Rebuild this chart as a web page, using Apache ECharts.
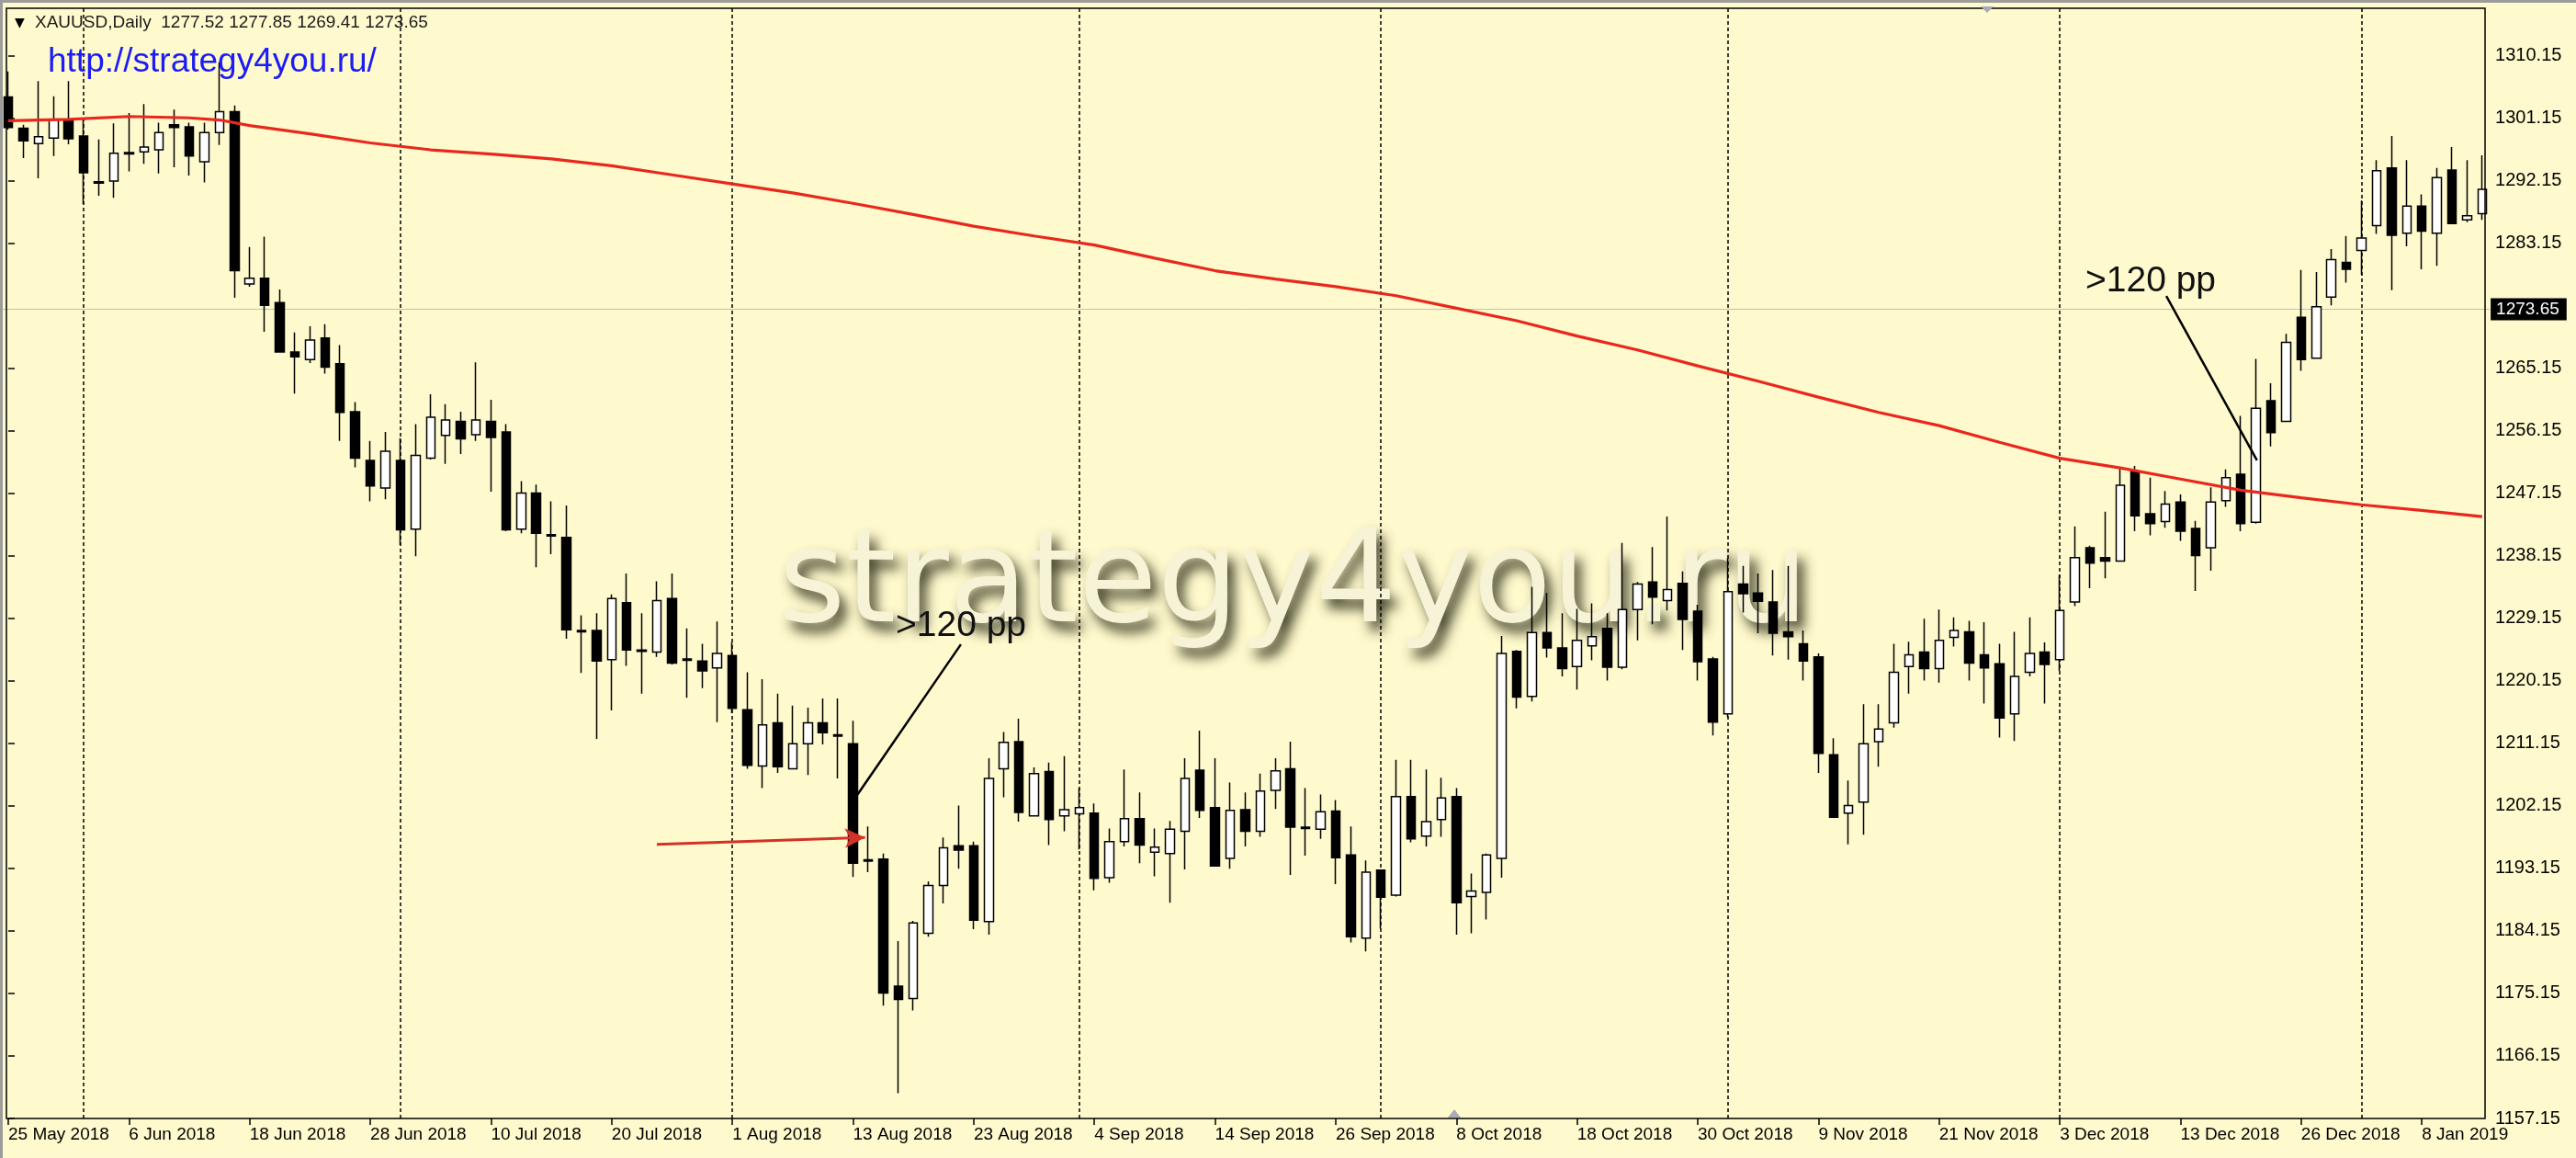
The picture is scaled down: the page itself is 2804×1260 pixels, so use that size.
<!DOCTYPE html>
<html>
<head>
<meta charset="utf-8">
<title>XAUUSD,Daily</title>
<script src="https://cdn.jsdelivr.net/npm/echarts@6/dist/echarts.min.js"></script>
<style>
  html, body { margin: 0; padding: 0; background: #fffacd; }
  #main { width: 2804px; height: 1260px; }
</style>
</head>
<body>
<div id="main"></div>
<script>
// trading days shown on the chart (MT4 daily bars)
const dates = [
  '25 May 2018','28 May 2018','29 May 2018','30 May 2018','31 May 2018','1 Jun 2018','4 Jun 2018','5 Jun 2018','6 Jun 2018','7 Jun 2018',
  '8 Jun 2018','11 Jun 2018','12 Jun 2018','13 Jun 2018','14 Jun 2018','15 Jun 2018','18 Jun 2018','19 Jun 2018','20 Jun 2018','21 Jun 2018',
  '22 Jun 2018','25 Jun 2018','26 Jun 2018','27 Jun 2018','28 Jun 2018','29 Jun 2018','2 Jul 2018','3 Jul 2018','4 Jul 2018','5 Jul 2018',
  '6 Jul 2018','9 Jul 2018','10 Jul 2018','11 Jul 2018','12 Jul 2018','13 Jul 2018','16 Jul 2018','17 Jul 2018','18 Jul 2018','19 Jul 2018',
  '20 Jul 2018','23 Jul 2018','24 Jul 2018','25 Jul 2018','26 Jul 2018','27 Jul 2018','30 Jul 2018','31 Jul 2018','1 Aug 2018','2 Aug 2018',
  '3 Aug 2018','6 Aug 2018','7 Aug 2018','8 Aug 2018','9 Aug 2018','10 Aug 2018','13 Aug 2018','14 Aug 2018','15 Aug 2018','16 Aug 2018',
  '17 Aug 2018','20 Aug 2018','21 Aug 2018','22 Aug 2018','23 Aug 2018','24 Aug 2018','27 Aug 2018','28 Aug 2018','29 Aug 2018','30 Aug 2018',
  '31 Aug 2018','3 Sep 2018','4 Sep 2018','5 Sep 2018','6 Sep 2018','7 Sep 2018','10 Sep 2018','11 Sep 2018','12 Sep 2018','13 Sep 2018',
  '14 Sep 2018','17 Sep 2018','18 Sep 2018','19 Sep 2018','20 Sep 2018','21 Sep 2018','24 Sep 2018','25 Sep 2018','26 Sep 2018','27 Sep 2018',
  '28 Sep 2018','1 Oct 2018','2 Oct 2018','3 Oct 2018','4 Oct 2018','5 Oct 2018','8 Oct 2018','9 Oct 2018','10 Oct 2018','11 Oct 2018',
  '12 Oct 2018','15 Oct 2018','16 Oct 2018','17 Oct 2018','18 Oct 2018','19 Oct 2018','22 Oct 2018','23 Oct 2018','24 Oct 2018','25 Oct 2018',
  '26 Oct 2018','29 Oct 2018','30 Oct 2018','31 Oct 2018','1 Nov 2018','2 Nov 2018','5 Nov 2018','6 Nov 2018','7 Nov 2018','8 Nov 2018',
  '9 Nov 2018','12 Nov 2018','13 Nov 2018','14 Nov 2018','15 Nov 2018','16 Nov 2018','19 Nov 2018','20 Nov 2018','21 Nov 2018','22 Nov 2018',
  '23 Nov 2018','26 Nov 2018','27 Nov 2018','28 Nov 2018','29 Nov 2018','30 Nov 2018','3 Dec 2018','4 Dec 2018','5 Dec 2018','6 Dec 2018',
  '7 Dec 2018','10 Dec 2018','11 Dec 2018','12 Dec 2018','13 Dec 2018','14 Dec 2018','17 Dec 2018','18 Dec 2018','19 Dec 2018','20 Dec 2018',
  '21 Dec 2018','24 Dec 2018','26 Dec 2018','27 Dec 2018','28 Dec 2018','31 Dec 2018','2 Jan 2019','3 Jan 2019','4 Jan 2019','7 Jan 2019',
  '8 Jan 2019','9 Jan 2019','10 Jan 2019','11 Jan 2019','14 Jan 2019'
];

// OHLC
const opens = [
  1304.2,1299.7,1297.5,1298.3,1300.9,1298.6,1292.0,1292.1,1296.2,1296.3,
  1296.6,1300.2,1299.9,1294.9,1299.1,1302.1,1277.3,1278.1,1274.6,1267.5,
  1266.4,1269.5,1265.8,1258.9,1251.9,1247.9,1251.9,1242.0,1252.2,1255.5,
  1257.5,1255.6,1257.5,1256.0,1242.0,1247.2,1241.2,1240.8,1227.4,1227.4,
  1223.2,1231.4,1224.6,1224.3,1232.0,1223.3,1223.0,1222.0,1223.8,1216.0,
  1207.9,1214.1,1207.5,1211.1,1214.1,1212.4,1211.1,1194.4,1194.5,1176.2,
  1174.4,1183.8,1190.7,1196.4,1196.4,1185.5,1207.5,1211.4,1200.7,1207.1,
  1200.7,1201.0,1201.1,1191.8,1197.0,1200.3,1195.5,1195.3,1198.5,1207.3,
  1201.9,1194.6,1201.6,1198.5,1204.4,1207.5,1199.1,1198.8,1201.4,1195.1,
  1183.1,1192.9,1189.3,1203.5,1197.8,1200.2,1203.5,1189.1,1189.7,1194.6,
  1224.4,1217.9,1227.1,1224.9,1222.2,1225.2,1227.7,1222.1,1230.4,1234.4,
  1231.7,1234.2,1230.2,1223.3,1215.4,1234.1,1232.8,1231.5,1227.2,1225.5,
  1223.6,1209.5,1201.1,1202.7,1211.4,1214.1,1222.2,1224.3,1221.9,1226.4,
  1227.2,1223.9,1222.6,1215.4,1221.4,1224.3,1223.2,1231.5,1239.3,1237.9,
  1237.4,1250.2,1244.2,1243.1,1245.9,1242.1,1239.3,1246.1,1249.9,1243.0,
  1260.5,1257.5,1272.5,1266.6,1275.4,1280.4,1282.1,1285.7,1294.0,1284.6,
  1288.5,1284.6,1293.7,1286.5,1287.4
];
const highs = [
  1307.9,1300.2,1306.5,1304.3,1306.5,1300.9,1298.1,1300.4,1301.9,1303.2,
  1300.5,1302.4,1300.5,1300.5,1309.2,1303.0,1282.6,1284.1,1276.5,1270.3,
  1271.2,1271.5,1268.5,1260.3,1254.7,1256.0,1255.1,1257.1,1261.4,1260.0,
  1258.9,1266.0,1260.6,1257.1,1248.9,1248.4,1246.0,1245.4,1229.6,1229.9,
  1232.6,1235.6,1229.9,1234.5,1235.6,1227.7,1225.5,1228.7,1225.7,1221.4,
  1220.4,1218.3,1216.6,1216.3,1217.6,1217.6,1214.4,1199.2,1195.3,1182.7,
  1185.6,1191.3,1197.6,1202.2,1197.0,1209.0,1212.8,1214.7,1207.7,1208.4,
  1209.3,1204.7,1202.5,1198.9,1207.4,1204.1,1198.9,1200.0,1209.0,1213.0,
  1209.0,1205.5,1204.1,1206.8,1209.0,1211.4,1204.7,1203.8,1203.0,1199.2,
  1194.3,1193.0,1208.8,1208.8,1207.4,1206.2,1204.7,1192.4,1195.3,1226.6,
  1224.6,1233.7,1232.8,1229.9,1230.5,1231.3,1229.9,1240.0,1234.4,1239.4,
  1243.8,1235.9,1231.1,1223.6,1237.8,1236.7,1235.6,1236.1,1236.7,1227.4,
  1224.1,1211.9,1205.8,1216.8,1216.8,1225.5,1225.8,1229.1,1230.4,1229.3,
  1228.8,1228.6,1225.5,1227.2,1229.3,1225.7,1235.4,1242.4,1239.6,1244.5,
  1250.8,1251.1,1249.4,1247.5,1247.0,1243.2,1248.0,1250.6,1258.3,1266.5,
  1263.0,1270.1,1279.3,1279.0,1282.3,1284.2,1289.3,1295.1,1298.6,1295.1,
  1290.2,1294.0,1297.0,1295.1,1295.8
];
const lows = [
  1299.5,1295.4,1292.5,1295.7,1297.4,1288.8,1290.0,1289.7,1293.5,1294.6,
  1293.2,1294.1,1292.9,1291.9,1297.3,1275.3,1276.9,1270.4,1267.4,1261.5,
  1265.9,1264.4,1254.7,1250.9,1246.0,1246.3,1239.7,1238.1,1252.0,1251.4,
  1252.8,1254.7,1247.4,1241.7,1241.4,1236.5,1238.4,1226.2,1221.3,1211.8,
  1215.9,1222.3,1218.3,1223.6,1222.5,1217.7,1219.1,1214.2,1215.5,1207.5,
  1204.7,1206.9,1207.4,1206.6,1211.0,1206.1,1191.9,1192.6,1173.4,1160.8,
  1172.7,1183.3,1188.1,1193.1,1184.4,1183.6,1203.4,1199.9,1200.6,1196.5,
  1198.5,1195.9,1190.0,1191.1,1196.3,1193.9,1192.0,1188.2,1193.0,1200.4,
  1193.4,1193.1,1196.3,1197.7,1201.7,1192.2,1195.0,1197.4,1190.9,1182.5,
  1181.2,1184.5,1189.1,1196.9,1196.3,1197.7,1183.6,1183.8,1185.8,1191.8,
  1216.2,1217.2,1223.5,1220.8,1218.9,1223.1,1220.2,1221.8,1226.0,1228.3,
  1230.3,1224.6,1220.2,1212.3,1214.9,1230.0,1227.0,1223.8,1223.2,1220.2,
  1206.9,1200.4,1196.6,1198.0,1207.8,1213.4,1218.3,1220.2,1219.9,1225.1,
  1220.2,1216.9,1212.0,1211.5,1220.8,1216.9,1221.6,1230.9,1233.5,1234.9,
  1237.3,1241.7,1241.1,1242.2,1240.3,1233.1,1236.0,1245.2,1241.7,1242.8,
  1253.9,1257.5,1264.8,1266.5,1274.2,1277.5,1278.6,1284.5,1276.4,1282.7,
  1279.4,1279.9,1285.9,1286.2,1286.5
];
const closes = [
  1299.8,1297.9,1298.5,1300.9,1298.2,1293.3,1291.8,1296.1,1296.0,1297.0,
  1299.1,1299.8,1295.7,1299.1,1302.1,1279.2,1278.1,1274.2,1267.5,1266.8,
  1269.2,1265.3,1258.8,1252.2,1248.2,1253.2,1241.9,1252.6,1258.1,1257.7,
  1255.0,1257.7,1255.2,1241.9,1247.2,1241.4,1241.0,1227.5,1227.2,1223.0,
  1232.0,1224.6,1224.4,1231.7,1222.7,1223.1,1221.6,1224.1,1216.2,1208.0,
  1213.8,1207.8,1211.1,1214.1,1212.7,1212.2,1193.9,1194.2,1175.2,1174.3,
  1185.3,1190.7,1196.1,1195.8,1185.7,1206.1,1211.3,1201.2,1206.8,1200.2,
  1201.6,1201.9,1191.7,1197.0,1200.3,1196.5,1196.2,1198.8,1206.1,1201.5,
  1193.5,1201.5,1198.5,1204.3,1207.2,1199.1,1198.9,1201.3,1194.7,1183.3,
  1192.6,1189.0,1203.5,1197.4,1199.9,1203.3,1188.2,1189.9,1195.1,1224.1,
  1217.8,1227.1,1224.9,1221.9,1226.0,1226.5,1222.1,1230.4,1234.1,1232.2,
  1233.3,1229.0,1222.9,1214.2,1233.0,1232.7,1231.6,1227.0,1226.5,1223.0,
  1209.7,1200.5,1202.2,1211.1,1213.2,1221.4,1223.9,1221.9,1226.0,1227.4,
  1222.7,1222.0,1214.8,1220.8,1224.1,1222.5,1230.3,1237.9,1237.1,1237.4,
  1248.3,1243.9,1242.8,1245.6,1241.7,1238.2,1245.9,1249.4,1242.8,1259.4,
  1255.9,1268.9,1266.4,1274.0,1280.8,1279.4,1283.9,1293.6,1284.3,1288.5,
  1284.9,1292.6,1286.0,1287.1,1290.9
];

// red moving average, read at these bar numbers
const smaIdx = [0,4,8,12,14,16,20,24,28,32,36,40,44,48,52,56,60,64,68,72,76,80,84,88,92,96,100,104,108,112,116,120,124,128,132,136,140,144,148,152,156,160,164];
const smaVal = [1300.8,1301.0,1301.4,1301.2,1300.9,1300.1,1298.9,1297.6,1296.6,1296.0,1295.3,1294.3,1293.0,1291.7,1290.4,1288.9,1287.3,1285.6,1284.2,1282.9,1281.0,1279.2,1278.0,1276.9,1275.6,1273.8,1272.0,1269.8,1267.8,1265.5,1263.3,1261.0,1258.8,1256.9,1254.5,1252.2,1250.8,1249.2,1247.6,1246.5,1245.5,1244.7,1243.8];

// month separators (first bar of each month)
const sepIdx = [5, 26, 48, 71, 91, 114, 136, 156];

// price scale labels (1274.15 is covered by the bid label)
const yTicks = [1157.15,1166.15,1175.15,1184.15,1193.15,1202.15,1211.15,1220.15,1229.15,1238.15,1247.15,1256.15,1265.15,1283.15,1292.15,1301.15,1310.15];

const headerOHLC = [1277.52, 1277.85, 1269.41, 1273.65];
const lastPrice = 1273.65;

// annotations in [bar, price]
const noteLine1 = [[56.3, 1203.8], [63.15, 1225.4]];
const noteLine2 = [[143.06, 1275.55], [149.07, 1251.9]];
const arrowLine = [[43.0, 1196.6], [56.8, 1197.6]];

const candles = dates.map(function (d, i) {
  return [opens[i], closes[i], lows[i], highs[i]];
});
const smaData = smaIdx.map(function (x, k) {
  return [x, smaVal[k]];
});

var chartDom = document.getElementById('main');
var myChart = echarts.init(chartDom, null, { renderer: 'canvas' });

var option = {
  animation: false,
  backgroundColor: '#fffacd',
  grid: {
    left: 0.8,
    right: 93.9,
    top: 9,
    bottom: 43,
    containLabel: false,
    outerBoundsMode: 'none'
  },
  xAxis: [
    {
      type: 'category',
      data: dates,
      boundaryGap: true,
      axisLine: { show: false },
      axisTick: {
        show: true,
        interval: 7,
        alignWithLabel: true,
        length: 7,
        lineStyle: { color: '#000', width: 1.5 }
      },
      axisLabel: {
        interval: 7,
        align: 'left',
        margin: 8,
        color: '#000',
        fontSize: 19,
        fontFamily: 'Liberation Sans'
      },
      splitLine: { show: false }
    },
    {
      // helper axis so lines can sit between bars
      type: 'value',
      min: -0.5,
      max: 164.5,
      show: false
    }
  ],
  yAxis: {
    type: 'value',
    position: 'right',
    offset: -5,
    min: 1157.15,
    max: 1316.98,
    axisLine: { show: false },
    axisTick: {
      show: true,
      length: 7,
      customValues: yTicks,
      lineStyle: { color: '#000', width: 1.5 }
    },
    axisLabel: {
      margin: 11,
      color: '#000',
      fontSize: 20,
      fontFamily: 'Liberation Sans',
      customValues: yTicks,
      formatter: function (v) {
        return Number(v).toFixed(2);
      }
    },
    splitLine: { show: false }
  },
  series: [
    {
      // carries the dashed month separators, drawn under the candles
      name: 'separators',
      type: 'line',
      xAxisIndex: 0,
      yAxisIndex: 0,
      data: [],
      z: 1,
      silent: true,
      markLine: {
        z: 1,
        silent: true,
        animation: false,
        symbol: ['none', 'none'],
        label: { show: false },
        data: sepIdx.map(function (i) {
          return { xAxis: i, lineStyle: { color: '#000', type: [4, 3], width: 1.5 } };
        })
      }
    },
    {
      name: 'XAUUSD',
      type: 'candlestick',
      xAxisIndex: 0,
      yAxisIndex: 0,
      data: candles,
      barWidth: 10,
      z: 3,
      itemStyle: {
        color: '#ffffff',
        color0: '#000000',
        borderColor: '#000',
        borderColor0: '#000',
        borderColorDoji: '#000',
        borderWidth: 1.5
      },
      markLine: {
        z: 2,
        silent: true,
        animation: false,
        symbol: ['none', 'none'],
        label: { show: false },
        data: [
          {
            yAxis: lastPrice,
            lineStyle: { color: '#c0c0c0', type: 'solid', width: 1 },
            label: {
              show: true,
              position: 'end',
              distance: 1,
              formatter: lastPrice.toFixed(2),
              color: '#fff',
              backgroundColor: '#000',
              padding: [3, 8, 2, 6],
              fontSize: 19,
              fontFamily: 'Liberation Sans'
            }
          }
        ]
      }
    },
    {
      name: 'MA',
      type: 'line',
      xAxisIndex: 1,
      yAxisIndex: 0,
      data: smaData,
      symbol: 'none',
      showSymbol: false,
      silent: true,
      z: 4,
      lineStyle: { color: '#e8281e', width: 3.2 },
      markLine: {
        silent: true,
        animation: false,
        symbol: ['none', 'none'],
        label: { show: false },
        data: [
          [
            { coord: noteLine1[0], lineStyle: { color: '#000', width: 2.5, type: 'solid' } },
            { coord: noteLine1[1] }
          ],
          [
            { coord: noteLine2[0], lineStyle: { color: '#000', width: 2.5, type: 'solid' } },
            { coord: noteLine2[1] }
          ],
          [
            { coord: arrowLine[0], lineStyle: { color: '#d23228', width: 3, type: 'solid' } },
            { coord: arrowLine[1], symbol: 'arrow', symbolSize: [16, 22] }
          ]
        ]
      }
    }
  ],
  graphic: [
    // window border + chart frame
    { type: 'rect', z: 100, shape: { x: 0, y: 0, width: 2804, height: 3 }, style: { fill: '#9c9c9c' } },
    { type: 'rect', z: 100, shape: { x: 0, y: 0, width: 3, height: 1260 }, style: { fill: '#9c9c9c' } },
    {
      type: 'rect',
      z: 100,
      shape: { x: 7, y: 9, width: 2698, height: 1208 },
      style: { fill: 'none', stroke: '#000', lineWidth: 1.5 }
    },
    // watermark
    {
      type: 'text',
      z: 0,
      x: 1408,
      y: 640,
      style: {
        text: 'strategy4you.ru',
        font: '140px "DejaVu Sans"',
        fill: '#f7f3d6',
        align: 'center',
        verticalAlign: 'middle',
        textShadowColor: 'rgba(40,40,20,0.9)',
        textShadowBlur: 14,
        textShadowOffsetX: 7,
        textShadowOffsetY: 10
      }
    },
    // header
    {
      type: 'text',
      z: 100,
      x: 16,
      y: 25,
      style: { text: '▼', font: '14px "DejaVu Sans"', fill: '#000', verticalAlign: 'middle' }
    },
    {
      type: 'text',
      z: 100,
      x: 38,
      y: 25,
      style: {
        text: 'XAUUSD,Daily  ' + headerOHLC.map(function (v) { return v.toFixed(2); }).join(' '),
        font: '19px "Liberation Sans"',
        fill: '#1a1a1a',
        verticalAlign: 'middle'
      }
    },
    {
      type: 'text',
      z: 100,
      x: 52,
      y: 68,
      style: {
        text: 'http://strategy4you.ru/',
        font: '37px "Liberation Sans"',
        fill: '#1c1cf5',
        verticalAlign: 'middle'
      }
    },
    // ">120 pp" notes
    {
      type: 'text',
      z: 100,
      x: 975,
      y: 681,
      style: { text: '>120 pp', font: '39px "Liberation Sans"', fill: '#111', verticalAlign: 'middle' }
    },
    {
      type: 'text',
      z: 100,
      x: 2270,
      y: 306,
      style: { text: '>120 pp', font: '39px "Liberation Sans"', fill: '#111', verticalAlign: 'middle' }
    },
    // little chart-shift markers
    {
      type: 'polygon',
      z: 100,
      shape: { points: [[2156, 7], [2170, 7], [2163, 14]] },
      style: { fill: '#a9abb8' }
    },
    {
      type: 'polygon',
      z: 100,
      shape: { points: [[1576, 1216], [1590, 1216], [1583, 1207]] },
      style: { fill: '#a9abb8' }
    }
  ]
};

option && myChart.setOption(option);
</script>
</body>
</html>
